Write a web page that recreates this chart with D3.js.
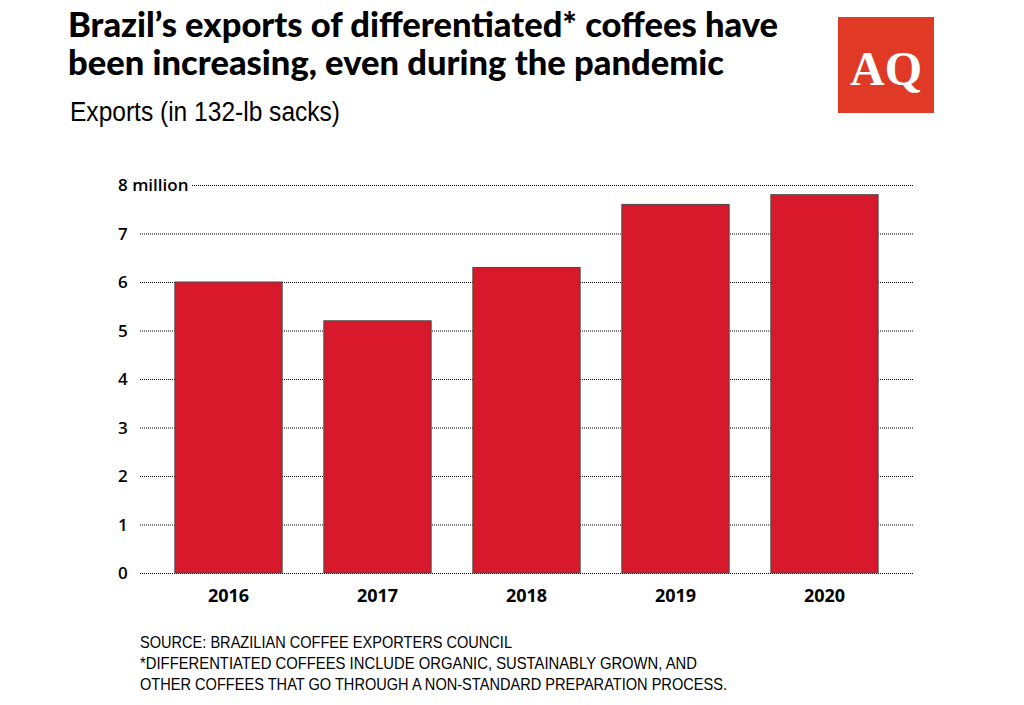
<!DOCTYPE html>
<html><head><meta charset="utf-8">
<script src="https://cdn.jsdelivr.net/npm/d3@7"></script>
<style>body{margin:0;background:#fff}svg{display:block}</style>
</head><body>
<svg id="c" width="1024" height="705"></svg>
<script>
const years = ["2016","2017","2018","2019","2020"];
const exportsMillions = [6.0, 5.2, 6.3, 7.6, 7.8];
const yTicks = [0,1,2,3,4,5,6,7,8];
const titleLines = ["Brazil\u2019s exports of differentiated* coffees have","been increasing, even during the pandemic"];
const subtitle = "Exports (in 132-lb sacks)";
const notes = ["SOURCE: BRAZILIAN COFFEE EXPORTERS COUNCIL","*DIFFERENTIATED COFFEES INCLUDE ORGANIC, SUSTAINABLY GROWN, AND","OTHER COFFEES THAT GO THROUGH A NON-STANDARD PREPARATION PROCESS."];

const svg = d3.select("#c");
const x = d3.scaleBand().domain(years).range([140, 913]).paddingInner(0.28).paddingOuter(0.234);
const y = d3.scaleLinear().domain([0, 8]).range([573, 185]);

// title
svg.selectAll("text.title").data(titleLines).join("text").attr("class","title")
  .attr("x", 68).attr("y", (d,i)=>37+i*38)
  .attr("font-family","Lato,'Liberation Sans',sans-serif")
  .attr("font-weight",900).attr("font-size", 35).attr("fill","#000")
  .attr("textLength",(d,i)=> i===0 ? 710 : 656).attr("lengthAdjust","spacingAndGlyphs")
  .text(d=>d);
svg.append("text").attr("x",70).attr("y",121)
  .attr("font-family","'Liberation Sans Narrow','Liberation Sans',sans-serif")
  .attr("font-size",27).attr("fill","#000")
  .attr("textLength",270).attr("lengthAdjust","spacingAndGlyphs").text(subtitle);

// logo
svg.append("rect").attr("x",838).attr("y",17).attr("width",96).attr("height",96).attr("fill","#e03a26");
svg.append("text").attr("x",886).attr("y",85).attr("text-anchor","middle")
  .attr("font-family","'Liberation Serif','DejaVu Serif',serif").attr("font-weight","bold")
  .attr("font-size",48).attr("fill","#fff").text("AQ");

// grid
const grid = svg.append("g");
grid.selectAll("line").data(yTicks).join("line")
  .attr("x1", d=> d===8 ? 192 : 140).attr("x2", 913)
  .attr("y1", d=>y(d)+0.5).attr("y2", d=>y(d)+0.5)
  .attr("stroke","#000").attr("stroke-width",1).attr("stroke-dasharray","1,1");

// y labels
svg.selectAll("text.yl").data(yTicks).join("text").attr("class","yl")
  .attr("x",118).attr("y",d=>y(d)+6)
  .attr("font-family","'Open Sans',sans-serif").attr("font-weight",600)
  .attr("font-size",17).attr("fill","#000")
  .text(d=> d===8 ? "8 million" : d);

// bars
svg.selectAll("rect.bar").data(years).join("rect").attr("class","bar")
  .attr("x", d=>x(d)).attr("width", x.bandwidth())
  .attr("y", (d,i)=>y(exportsMillions[i])).attr("height",(d,i)=>y(0)-y(exportsMillions[i]))
  .attr("fill","#d7192b").attr("stroke","#4a4a4a").attr("stroke-width",1);

// x labels
svg.selectAll("text.xl").data(years).join("text").attr("class","xl")
  .attr("x", d=>x(d)+x.bandwidth()/2).attr("y",602).attr("text-anchor","middle")
  .attr("font-family","'Open Sans',sans-serif").attr("font-weight",700)
  .attr("font-size",18).attr("fill","#000").text(d=>d);

// notes
svg.selectAll("text.note").data(notes).join("text").attr("class","note")
  .attr("x",140).attr("y",(d,i)=>648+i*21)
  .attr("font-family","'Liberation Sans Narrow','Liberation Sans',sans-serif")
  .attr("font-size",17).attr("fill","#000")
  .attr("textLength",(d,i)=>[372,557,587][i]).attr("lengthAdjust","spacingAndGlyphs")
  .text(d=>d);
</script>
</body></html>
